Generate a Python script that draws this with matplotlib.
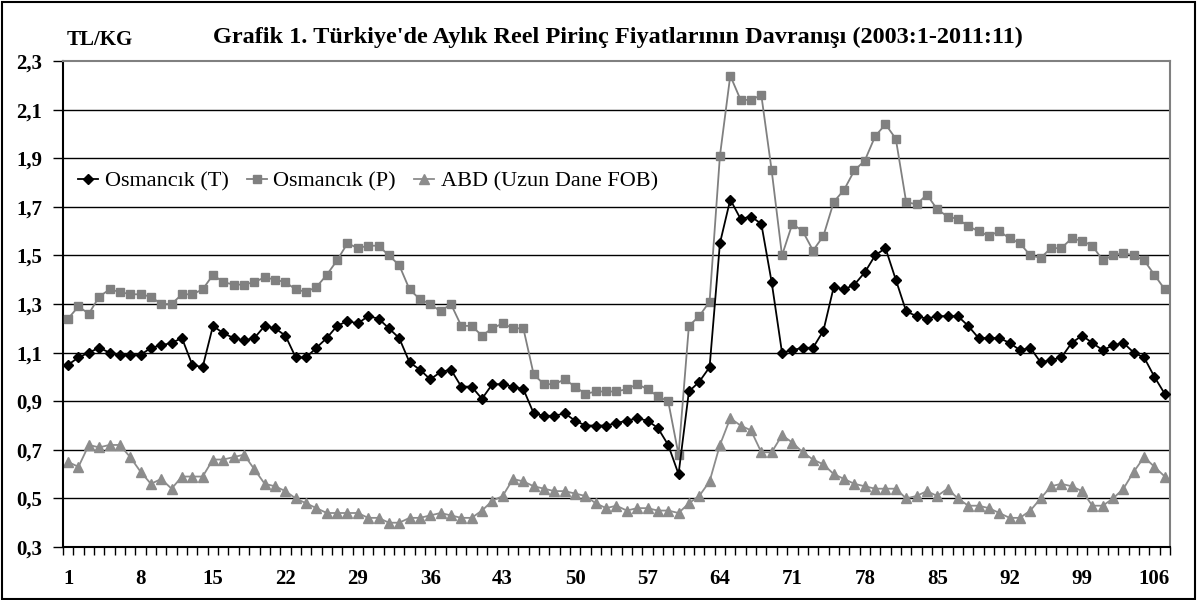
import numpy as np
import matplotlib
matplotlib.use("Agg")
import matplotlib.pyplot as plt
from matplotlib.patches import Rectangle

plt.rcParams['font.family'] = ['Liberation Serif', 'DejaVu Serif']

# data: monthly real rice prices, 2003:1 - 2011:11 (TL/KG)
months = list(range(1, 108))

osmancik_t = [1.05, 1.08, 1.10, 1.12, 1.10, 1.09, 1.09, 1.09, 1.12, 1.13,
              1.14, 1.16, 1.05, 1.04, 1.21, 1.18, 1.16, 1.15, 1.16, 1.21,
              1.20, 1.17, 1.08, 1.08, 1.12, 1.16, 1.21, 1.23, 1.22, 1.25,
              1.24, 1.20, 1.16, 1.06, 1.03, 0.99, 1.02, 1.03, 0.96, 0.96,
              0.91, 0.97, 0.97, 0.96, 0.95, 0.85, 0.84, 0.84, 0.85, 0.82,
              0.80, 0.80, 0.80, 0.81, 0.82, 0.83, 0.82, 0.79, 0.72, 0.60,
              0.94, 0.98, 1.04, 1.55, 1.73, 1.65, 1.66, 1.63, 1.39, 1.10,
              1.11, 1.12, 1.12, 1.19, 1.37, 1.36, 1.38, 1.43, 1.50, 1.53,
              1.40, 1.27, 1.25, 1.24, 1.25, 1.25, 1.25, 1.21, 1.16, 1.16,
              1.16, 1.14, 1.11, 1.12, 1.06, 1.07, 1.08, 1.14, 1.17, 1.14,
              1.11, 1.13, 1.14, 1.10, 1.08, 1.00, 0.93]

osmancik_p = [1.24, 1.29, 1.26, 1.33, 1.36, 1.35, 1.34, 1.34, 1.33, 1.30,
              1.30, 1.34, 1.34, 1.36, 1.42, 1.39, 1.38, 1.38, 1.39, 1.41,
              1.40, 1.39, 1.36, 1.35, 1.37, 1.42, 1.48, 1.55, 1.53, 1.54,
              1.54, 1.50, 1.46, 1.36, 1.32, 1.30, 1.27, 1.30, 1.21, 1.21,
              1.17, 1.20, 1.22, 1.20, 1.20, 1.01, 0.97, 0.97, 0.99, 0.96,
              0.93, 0.94, 0.94, 0.94, 0.95, 0.97, 0.95, 0.92, 0.90, 0.68,
              1.21, 1.25, 1.31, 1.91, 2.24, 2.14, 2.14, 2.16, 1.85, 1.50,
              1.63, 1.60, 1.52, 1.58, 1.72, 1.77, 1.85, 1.89, 1.99, 2.04,
              1.98, 1.72, 1.71, 1.75, 1.69, 1.66, 1.65, 1.62, 1.60, 1.58,
              1.60, 1.57, 1.55, 1.50, 1.49, 1.53, 1.53, 1.57, 1.56, 1.54,
              1.48, 1.50, 1.51, 1.50, 1.48, 1.42, 1.36]

abd_fob = [0.65, 0.63, 0.72, 0.71, 0.72, 0.72, 0.67, 0.61, 0.56, 0.58,
           0.54, 0.59, 0.59, 0.59, 0.66, 0.66, 0.67, 0.68, 0.62, 0.56,
           0.55, 0.53, 0.50, 0.48, 0.46, 0.44, 0.44, 0.44, 0.44, 0.42,
           0.42, 0.40, 0.40, 0.42, 0.42, 0.43, 0.44, 0.43, 0.42, 0.42,
           0.45, 0.49, 0.51, 0.58, 0.57, 0.55, 0.54, 0.53, 0.53, 0.52,
           0.51, 0.48, 0.46, 0.47, 0.45, 0.46, 0.46, 0.45, 0.45, 0.44,
           0.48, 0.51, 0.57, 0.72, 0.83, 0.80, 0.78, 0.69, 0.69, 0.76,
           0.73, 0.69, 0.66, 0.64, 0.60, 0.58, 0.56, 0.55, 0.54, 0.54,
           0.54, 0.50, 0.51, 0.53, 0.51, 0.54, 0.50, 0.47, 0.47, 0.46,
           0.44, 0.42, 0.42, 0.45, 0.50, 0.55, 0.56, 0.55, 0.53, 0.47,
           0.47, 0.50, 0.54, 0.61, 0.67, 0.63, 0.59]

labels = ["Osmancık (T)", "Osmancık (P)", "ABD (Uzun Dane FOB)"]
yticks = [0.3, 0.5, 0.7, 0.9, 1.1, 1.3, 1.5, 1.7, 1.9, 2.1, 2.3]

fig = plt.figure(figsize=(11.99, 6.0), dpi=100)
ax = fig.add_axes([0.0525, 0.0883, 0.9233, 0.81])

# chart border round the whole figure
fig.patches.append(Rectangle((0.002, 0.002), 0.995, 0.994, transform=fig.transFigure,
                             fill=False, edgecolor="black", lw=1.5))

for y in yticks[1:-1]:
    ax.axhline(y, color="black", lw=1.0, zorder=1)

ax.plot(months, osmancik_t, color="black", lw=1.3, marker="D", ms=5,
        label=labels[0], zorder=4)
ax.plot(months, osmancik_p, color="#808080", lw=1.3, marker="s", ms=5.5,
        label=labels[1], zorder=3)
ax.plot(months, abd_fob, color="#8c8c8c", lw=1.3, marker="^", ms=7,
        label=labels[2], zorder=2)

ax.set_xlim(0.5, 107.5)
ax.set_ylim(0.3, 2.3)

ax.set_yticks(yticks)
ax.set_yticklabels([f"{v:.1f}".replace(".", ",") for v in yticks],
                   fontweight="bold", fontsize=15)
ax.set_xticks(months[::7])
ax.set_xticklabels([str(m) for m in months[::7]], fontweight="bold", fontsize=15)
ax.set_xticks(np.arange(0.5, 108, 1), minor=True)
ax.tick_params(axis="x", which="major", length=0, pad=16)
ax.tick_params(axis="x", which="minor", length=6, width=1, direction="out")
ax.tick_params(axis="y", length=7, width=1, direction="out", pad=8)

for side in ["top", "right"]:
    ax.spines[side].set_color("#808080")
    ax.spines[side].set_linewidth(1.5)
for side in ["left", "bottom"]:
    ax.spines[side].set_color("black")
    ax.spines[side].set_linewidth(1.5)

ax.legend(loc="center left", bbox_to_anchor=(0.006, 0.753), ncol=3, frameon=False,
          fontsize=16, handlelength=0.9, handletextpad=0.3, columnspacing=0.8,
          borderaxespad=0.0)

fig.text(0.083, 0.933, "TL/KG", fontweight="bold", fontsize=15, ha="center", va="center")
fig.text(0.515, 0.937,
         "Grafik 1. Türkiye'de Aylık Reel Pirinç Fiyatlarının Davranışı (2003:1-2011:11)",
         fontweight="bold", fontsize=17.5, ha="center", va="center")

fig.savefig("out.png", dpi=100)
